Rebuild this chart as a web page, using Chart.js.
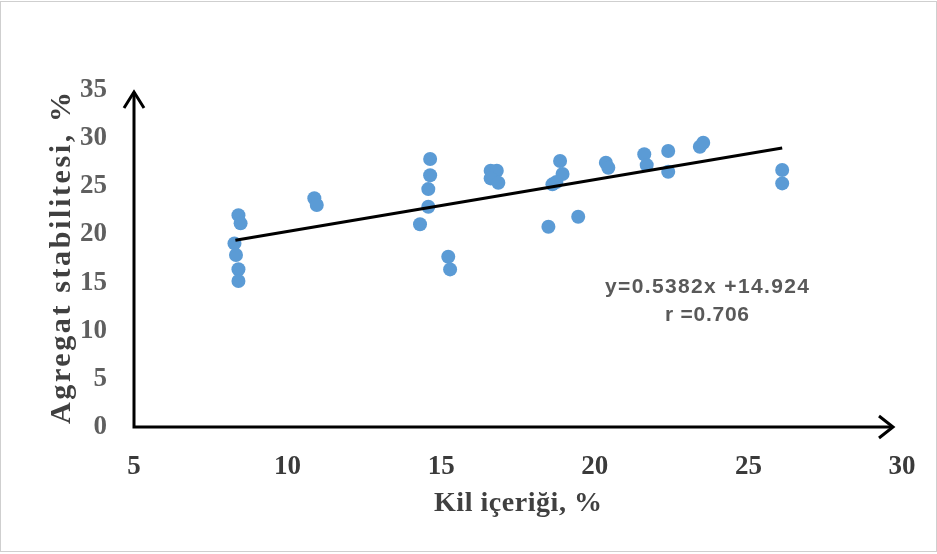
<!DOCTYPE html>
<html><head><meta charset="utf-8">
<script src="https://cdn.jsdelivr.net/npm/chart.js@4.4.0/dist/chart.umd.min.js"></script>
<style>html,body{margin:0;padding:0;background:#fff;overflow:hidden}#wrap{width:937px;height:554px;position:relative}</style>
</head><body><div id="wrap"><canvas id="c" width="937" height="554"></canvas></div>
<script>
// Clay content (%) and aggregate stability (%)
const clayX = [8.40, 8.47, 8.27, 8.32, 8.40, 8.40, 10.87, 10.95, 14.64, 14.64, 14.58, 14.58, 14.31, 15.23, 15.29,
  16.61, 16.81, 16.61, 16.86, 18.87, 18.95, 18.62, 18.75, 18.49, 19.46, 20.36, 20.44, 21.61, 21.69, 22.39, 22.39,
  23.42, 23.53, 26.10, 26.10];
const aggY = [22.0, 21.15, 19.07, 17.86, 16.38, 15.16, 23.75, 23.05, 27.83, 26.14, 24.71, 22.88, 21.05, 17.68, 16.37,
  26.62, 26.62, 25.82, 25.37, 27.62, 26.27, 25.2, 25.45, 20.8, 21.84, 27.45, 26.93, 28.32, 27.2, 28.66, 26.51,
  29.1, 29.52, 26.69, 25.3];
const slope = 0.5382, intercept = 14.924;
const fitX = [8.3, 26.1];
const xTicks = [5, 10, 15, 20, 25, 30];
const yTicks = [0, 5, 10, 15, 20, 25, 30, 35];
const xTitle = 'Kil içeriği, %';
const yTitle = 'Agregat stabilitesi, %';
const eqLines = ['y=0.5382x +14.924', 'r =0.706'];

const points = clayX.map((x, i) => ({x: x, y: aggY[i]}));
const fitLine = fitX.map(x => ({x: x, y: intercept + slope * x}));

function fitText(ctx, text, x, y, width) {
  ctx.letterSpacing = '0px';
  const w = ctx.measureText(text).width;
  ctx.textAlign = 'left';
  if (w > width) {
    ctx.save();
    ctx.translate(x - width / 2, y);
    ctx.scale(width / w, 1);
    ctx.fillText(text, 0, 0);
    ctx.restore();
  } else {
    const n = Math.max(1, text.length - 1);
    ctx.letterSpacing = ((width - w) / n).toFixed(2) + 'px';
    ctx.fillText(text, x - width / 2, y);
  }
  ctx.letterSpacing = '0px';
}

const decor = {
  id: 'decor',
  afterDraw(chart) {
    const ctx = chart.ctx;
    const xs = chart.scales.x, ys = chart.scales.y;
    const x0 = xs.getPixelForValue(5), y0 = ys.getPixelForValue(0);
    const yTop = ys.getPixelForValue(35) + 2;
    const xEnd = xs.getPixelForValue(30) - 9;
    ctx.save();
    ctx.strokeStyle = '#cfcfcf';
    ctx.lineWidth = 1;
    ctx.strokeRect(0.5, 1.5, 936, 550);
    ctx.strokeStyle = '#000';
    ctx.lineWidth = 3;
    ctx.lineCap = 'butt';
    ctx.beginPath();
    ctx.moveTo(x0, yTop);
    ctx.lineTo(x0, y0);
    ctx.lineTo(xEnd, y0);
    ctx.stroke();
    ctx.lineJoin = 'miter';
    ctx.beginPath();
    ctx.moveTo(x0 - 10, yTop + 16);
    ctx.lineTo(x0, yTop);
    ctx.lineTo(x0 + 10, yTop + 16);
    ctx.stroke();
    ctx.beginPath();
    ctx.moveTo(xEnd - 14, y0 - 11);
    ctx.lineTo(xEnd, y0);
    ctx.lineTo(xEnd - 14, y0 + 11);
    ctx.stroke();
    ctx.fillStyle = '#404040';
    ctx.textBaseline = 'middle';
    ctx.font = 'bold 28px "Liberation Serif"';
    fitText(ctx, xTitle, 518, 504, 168);
    ctx.save();
    ctx.translate(62, 258);
    ctx.rotate(-Math.PI / 2);
    ctx.font = 'bold 30px "Liberation Serif"';
    fitText(ctx, yTitle, 0, 0, 332);
    ctx.restore();
    ctx.fillStyle = '#595959';
    ctx.font = 'bold 21px "Liberation Sans"';
    fitText(ctx, eqLines[0], 707, 287, 204);
    fitText(ctx, eqLines[1], 707, 315, 84);
    ctx.restore();
  }
};

new Chart(document.getElementById('c'), {
  type: 'scatter',
  data: {
    datasets: [
      {type: 'line', data: fitLine, borderColor: '#000', borderWidth: 3, pointRadius: 0, fill: false, order: 0},
      {type: 'scatter', data: points, backgroundColor: '#5B9BD5', borderWidth: 0, pointRadius: 7, order: 1}
    ]
  },
  options: {
    responsive: false, animation: false, devicePixelRatio: 1,
    layout: {padding: {left: 0, top: 90, right: 35, bottom: 0}},
    plugins: {legend: {display: false}, tooltip: {enabled: false}},
    scales: {
      x: {
        type: 'linear', min: 5, max: 30,
        afterBuildTicks: s => { s.ticks = xTicks.map(v => ({value: v})); },
        afterFit: s => { s.height = 127; s.paddingLeft = 0; s.paddingRight = 0; },
        grid: {display: false, drawTicks: false, tickLength: 0},
        border: {display: false},
        ticks: {padding: 24, color: '#3a3a3a', font: {family: 'Liberation Serif', size: 27, weight: 'bold'}, autoSkip: false, maxRotation: 0}
      },
      y: {
        type: 'linear', min: 0, max: 35,
        afterBuildTicks: s => { s.ticks = yTicks.map(v => ({value: v})); },
        afterFit: s => { s.width = 134; s.paddingTop = 0; s.paddingBottom = 0; },
        grid: {display: false, drawTicks: false, tickLength: 0},
        border: {display: false},
        ticks: {padding: 27, color: '#5f5f5f', font: {family: 'Liberation Serif', size: 27, weight: 'bold'}, autoSkip: false}
      }
    }
  },
  plugins: [decor]
});
</script></body></html>
